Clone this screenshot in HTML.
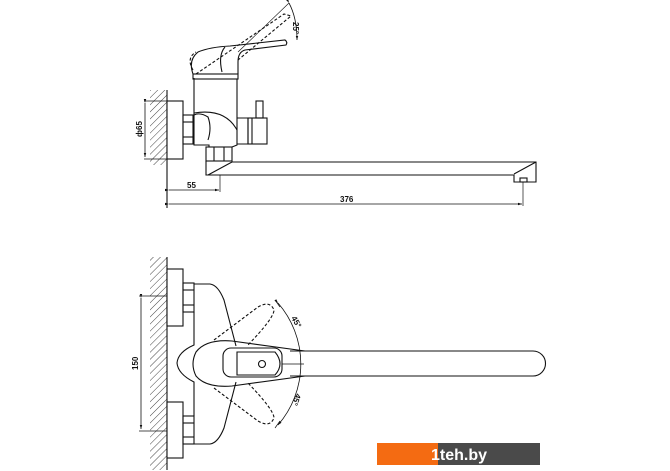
<!DOCTYPE html>
<html><head><meta charset="utf-8"><style>
html,body{margin:0;padding:0;background:#fff;width:670px;height:471px;overflow:hidden}
svg{display:block}
text{font-family:"Liberation Sans",sans-serif;font-weight:bold;fill:#111}
</style></head><body>
<svg width="670" height="471" viewBox="0 0 670 471" xmlns="http://www.w3.org/2000/svg">
<defs>
<pattern id="h" width="5" height="5" patternUnits="userSpaceOnUse" patternTransform="rotate(45)">
<line x1="0" y1="0" x2="0" y2="5" stroke="#444" stroke-width="1"/>
</pattern>
<marker id="a" markerWidth="6" markerHeight="6" refX="5" refY="3" orient="auto"><path d="M0,1.5 L5,3 L0,4.5z" fill="#111"/></marker>
</defs>
<g fill="none" stroke="#111" stroke-width="1.1">
<!-- TOP VIEW -->
<rect x="150" y="90" width="17" height="75" fill="url(#h)" stroke="none"/>
<line x1="167" y1="90" x2="167" y2="208"/>
<rect x="167" y="101" width="16" height="58" fill="#fff"/>
<line x1="144" y1="101" x2="167" y2="101" stroke-width="0.7"/>
<line x1="144" y1="159" x2="167" y2="159" stroke-width="0.7"/>
<line x1="145" y1="103" x2="145" y2="157" marker-start="url(#a)" marker-end="url(#a)" stroke-width="0.8"/>
<rect x="183" y="115" width="10" height="29"/>
<line x1="183" y1="122" x2="193" y2="122"/><line x1="183" y1="137" x2="193" y2="137"/>
<!-- body -->
<path d="M194,78 L194,145 L209,145 L209,147 M232,147 L237,145 L237,79"/>
<path d="M194,115 Q200,112 208,117 Q212,128 208,140"/>
<path d="M194,113 Q225,108 237,130"/>
<path d="M237,118 L248,118 L248,144 L237,144"/>
<rect x="248" y="118" width="19" height="26"/>
<line x1="252" y1="118" x2="252" y2="144"/>
<rect x="256" y="101" width="7" height="17"/>
<rect x="206" y="147" width="26" height="14"/>
<line x1="214" y1="147" x2="214" y2="161"/><line x1="224" y1="147" x2="224" y2="161"/>
<!-- handle -->
<rect x="193" y="74" width="45" height="5"/>
<path d="M193,74 Q188,60 198,52 Q210,47 230,46 L285,40 Q288,42 286,45 L245,50 Q238,52 238,62 L238,74"/>
<path d="M225,47 Q218,55 222,72"/>
<path d="M196,74 L284,14 L291,16 L238,60" stroke-dasharray="3,2"/>
<path d="M193,70 Q186,58 196,52" stroke-dasharray="3,2"/>
<line x1="238" y1="52" x2="289" y2="3" stroke-width="0.6"/>
<path d="M289,3 Q297,18 297,40" stroke-width="0.8" marker-start="url(#a)" marker-end="url(#a)"/>
<!-- spout -->
<path d="M206,161 L206,175 L514,175 L514,182 L536,182 L536,162 L232,162"/>
<line x1="208" y1="175" x2="232" y2="162"/>
<line x1="514" y1="174" x2="536" y2="162"/>
<rect x="520" y="178" width="7" height="4"/>
<line x1="220" y1="175" x2="220" y2="192" stroke-width="0.7"/>
<line x1="523" y1="182" x2="523" y2="206" stroke-width="0.7"/>
<line x1="169" y1="190" x2="219" y2="190" marker-start="url(#a)" marker-end="url(#a)" stroke-width="0.8"/>
<line x1="169" y1="204" x2="522" y2="204" marker-start="url(#a)" marker-end="url(#a)" stroke-width="0.8"/>
<!-- BOTTOM VIEW -->
<rect x="150" y="257" width="17" height="213" fill="url(#h)" stroke="none"/>
<line x1="167" y1="257" x2="167" y2="470"/>
<rect x="167" y="269" width="16" height="57" fill="#fff"/>
<rect x="167" y="402" width="16" height="56" fill="#fff"/>
<rect x="183" y="283" width="11" height="29"/><line x1="183" y1="290" x2="194" y2="290"/><line x1="183" y1="305" x2="194" y2="305"/>
<rect x="183" y="416" width="11" height="28"/><line x1="183" y1="423" x2="194" y2="423"/><line x1="183" y1="437" x2="194" y2="437"/>
<line x1="139" y1="296" x2="167" y2="296" stroke-width="0.7"/>
<line x1="139" y1="431" x2="167" y2="431" stroke-width="0.7"/>
<line x1="141" y1="298" x2="141" y2="429" marker-start="url(#a)" marker-end="url(#a)" stroke-width="0.8"/>
<path d="M194,284 L210,284 Q218,285 224,300 L236,346"/>
<path d="M194,444 L210,444 Q218,443 224,428 L236,382"/>
<path d="M194,312 L194,345 Q178,352 177,363 Q178,374 194,382 L194,416"/>
<path d="M305,351 L232,341 Q206,339 196,352 Q190,364 196,376 Q206,388 232,386 L305,376"/>
<path d="M290,351 L533,351 A12.5,12.5 0 0 1 533,376 L290,376"/>
<rect x="223" y="348" width="59" height="29" rx="8"/>
<path d="M237,352 L275,352 Q285,364 275,375 L237,375 Z"/>
<circle cx="262" cy="364" r="3.5"/>
<line x1="282" y1="364" x2="304" y2="364" stroke-width="0.7"/>
<g stroke-dasharray="3,2">
<path d="M214,340 L258,307 Q270,300 274,310 Q274,318 248,345"/>
<path d="M214,388 L258,421 Q270,428 274,418 Q274,410 248,383"/>
</g>
<path d="M278,303 A93,93 0 0 1 278,425" stroke-width="0.8" marker-start="url(#a)" marker-end="url(#a)"/>
<line x1="275" y1="300" x2="280" y2="307" stroke-width="0.7"/>
<line x1="275" y1="428" x2="280" y2="421" stroke-width="0.7"/>
</g>
<g font-size="8">
<text x="0" y="0" transform="translate(142,137) rotate(-90)">ф65</text>
<text x="187" y="188">55</text>
<text x="340" y="202">376</text>
<text x="0" y="0" transform="translate(293,22) rotate(90)">25°</text>
<text x="0" y="0" transform="translate(138,370) rotate(-90)">150</text>
<text x="0" y="0" transform="translate(291,318) rotate(60)">45°</text>
<text x="0" y="0" transform="translate(296,393) rotate(110)">45°</text>
</g>
<rect x="377" y="443" width="61" height="22" fill="#f46b12"/>
<rect x="438" y="443" width="102" height="22" fill="#4a4a4a"/>
<text x="431" y="460" font-size="16" style="fill:#fff;font-weight:bold">1teh.by</text>
</svg>
</body></html>
